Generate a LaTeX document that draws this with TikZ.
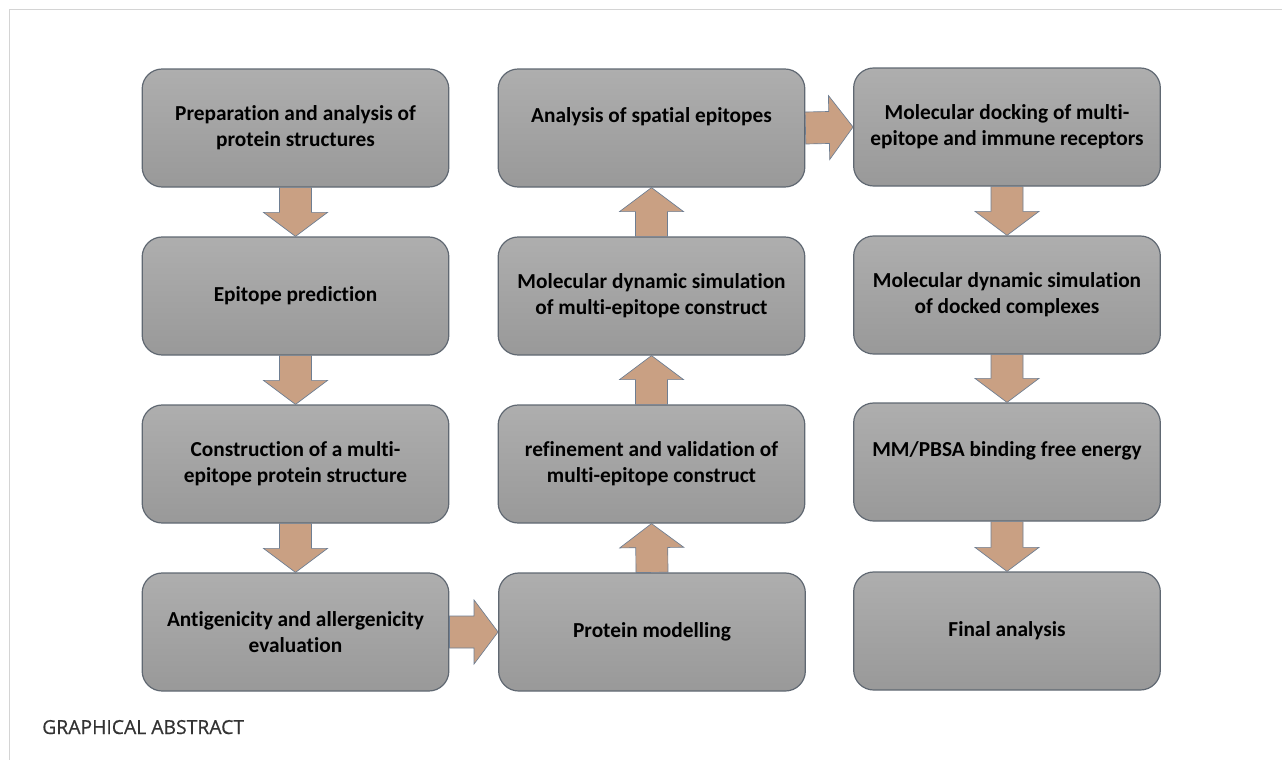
\documentclass[tikz,border=0pt]{standalone}
\usepackage{fontspec}
\setmainfont[Ligatures=NoCommon]{Carlito}
\newfontfamily\captionfont[FakeBold=0.6]{Open Sans}
\usetikzlibrary{calc}
\definecolor{boxtop}{RGB}{174,174,174}
\definecolor{boxbottom}{RGB}{153,153,153}
\definecolor{boxline}{RGB}{96,104,114}
\definecolor{arrowfill}{RGB}{201,160,131}
\definecolor{arrowline}{RGB}{110,126,146}
\definecolor{framegray}{RGB}{212,212,212}
\definecolor{captiongray}{RGB}{51,51,51}

% block arrow from one node anchor to another
\newcommand{\flowarrow}[2]{%
  \path (#1) coordinate (fa-s) (#2) coordinate (fa-e);
  \path ($(fa-e)!18pt!(fa-s)$) coordinate (fa-h);
  \draw[blockarrow] ($(fa-s)!12pt!90:(fa-e)$) -- ($(fa-h)!12pt!90:(fa-e)$)
    -- ($(fa-h)!24pt!90:(fa-e)$) -- (fa-e) -- ($(fa-h)!24pt!-90:(fa-e)$)
    -- ($(fa-h)!12pt!-90:(fa-e)$) -- ($(fa-s)!12pt!-90:(fa-e)$) -- cycle;}

\begin{document}
\begin{tikzpicture}[x=0.75pt, y=-0.75pt,
    box/.style={draw=boxline, line width=0.9pt, rounded corners=15pt,
        top color=boxtop, bottom color=boxbottom,
        minimum width=230pt, minimum height=88.5pt, align=center,
        text=black, font=\fontsize{16}{19.5}\selectfont\bfseries},
    blockarrow/.style={draw=arrowline, line width=0.5pt, fill=arrowfill}]
    \useasboundingbox (0,0) rectangle (1282,760);

    % Frame
    \draw[framegray, line width=1.1pt] (9.5,760) -- (9.5,9.5) -- (1282,9.5);

    % Column 1
    \node[box] (prep) at (295.5,128) {Preparation and analysis of\\protein structures};
    \node[box] (epipred) at (295.5,296) {Epitope prediction};
    \node[box] (construct) at (295.5,464) {Construction of a multi-\\epitope protein structure};
    \node[box] (antigen) at (295.5,632) {Antigenicity and allergenicity\\evaluation};

    % Column 2
    \node[box] (modelling) at (652,632) {Protein modelling};
    \node[box] (refine) at (651.5,464) {refinement and validation of\\multi-epitope construct};
    \node[box] (mdsim) at (651.5,296) {Molecular dynamic simulation\\of multi-epitope construct};
    \node[box] (spatial) at (651.5,128) {Analysis of spatial epitopes\\~};

    % Column 3
    \node[box] (docking) at (1007,127) {Molecular docking of multi-\\epitope and immune receptors};
    \node[box] (mdcomplex) at (1007,295) {Molecular dynamic simulation\\of docked complexes};
    \node[box] (mmpbsa) at (1007,462) {MM/PBSA binding free energy\\~};
    \node[box] (final) at (1007,631) {Final analysis};

    % Arrows
    \flowarrow{prep.south}{epipred.north}
    \flowarrow{epipred.south}{construct.north}
    \flowarrow{construct.south}{antigen.north}
    \flowarrow{antigen.east}{modelling.west}
    \flowarrow{modelling.north}{refine.south}
    \flowarrow{refine.north}{mdsim.south}
    \flowarrow{mdsim.north}{spatial.south}
    \flowarrow{spatial.east}{docking.west}
    \flowarrow{docking.south}{mdcomplex.north}
    \flowarrow{mdcomplex.south}{mmpbsa.north}
    \flowarrow{mmpbsa.south}{final.north}

    % Caption
    \node[anchor=base west, inner sep=0pt, text=captiongray,
        font=\captionfont\fontsize{14.5}{17}\selectfont] (caption) at (42,734) {GRAPHICAL ABSTRACT};
\end{tikzpicture}
\end{document}
